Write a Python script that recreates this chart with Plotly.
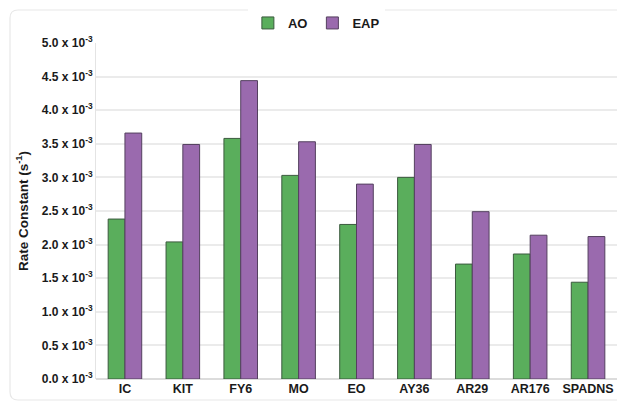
import plotly.graph_objects as go

# Dye categories and rate constants (units of 10^-3 s^-1)
categories = ["IC", "KIT", "FY6", "MO", "EO", "AY36", "AR29", "AR176", "SPADNS"]
ao_rates = [2.38, 2.04, 3.58, 3.03, 2.30, 3.00, 1.71, 1.86, 1.44]
eap_rates = [3.66, 3.49, 4.44, 3.53, 2.90, 3.49, 2.49, 2.14, 2.12]
tick_values = [0.0, 0.5, 1.0, 1.5, 2.0, 2.5, 3.0, 3.5, 4.0, 4.5, 5.0]
tick_labels = [f"{v:.1f} x 10<sup>-3</sup>" for v in tick_values]

FONT = "Liberation Sans, Arial, sans-serif"
INK = "#1a1a1a"

fig = go.Figure()
fig.add_trace(go.Bar(
    name="AO", x=categories, y=ao_rates,
    marker=dict(color="#5aae5c", line=dict(color="#3b5a3e", width=1)),
))
fig.add_trace(go.Bar(
    name="EAP", x=categories, y=eap_rates,
    marker=dict(color="#9a6aae", line=dict(color="#54405f", width=1)),
))

L, T, B = 96, 43, 23
W, H = 617, 402
pw, ph = W - L, H - T - B

def px(x):
    return (x - L) / pw

def py(y):
    return (H - B - y) / ph

# Rounded frame around the chart
x0, x1, y0, y1, r = px(10), px(640), py(400), py(10), 8
rx, ry = r / pw, r / ph
path = (f"M {x0+rx},{y1} L {x1-rx},{y1} Q {x1},{y1} {x1},{y1-ry} "
        f"L {x1},{y0+ry} Q {x1},{y0} {x1-rx},{y0} L {x0+rx},{y0} "
        f"Q {x0},{y0} {x0},{y0+ry} L {x0},{y1-ry} Q {x0},{y1} {x0+rx},{y1} Z")

fig.update_layout(
    width=W, height=H,
    margin=dict(l=L, r=0, t=T, b=B),
    paper_bgcolor="white", plot_bgcolor="white",
    barmode="group", bargap=0.42, bargroupgap=0,
    font=dict(family=FONT, color=INK),
    showlegend=True,
    legend=dict(orientation="h", x=0.423, y=py(23), xanchor="center", yanchor="middle",
                font=dict(size=13, family=FONT, weight="bold", color=INK),
                itemwidth=30, traceorder="normal", tracegroupgap=0),
    shapes=[dict(type="path", path=path, xref="paper", yref="paper",
                 line=dict(color="#e8e8e8", width=1.2), layer="below")],
    xaxis=dict(
        range=[-0.5, 8.5], showgrid=False, ticks="", showline=False,
        tickfont=dict(size=12.5, family=FONT, weight="bold", color=INK),
    ),
    yaxis=dict(
        range=[0, 5.0], tickvals=tick_values, ticktext=tick_labels,
        showgrid=True, gridcolor="#ebebeb", gridwidth=1.5,
        zeroline=True, zerolinecolor="#dcdcdc", zerolinewidth=1.5,
        showline=True, linecolor="#e4e4e4", linewidth=1,
        ticks="", ticklen=0,
        tickfont=dict(size=12, family=FONT, weight="bold", color=INK),
        title=dict(text="Rate Constant (s<sup>-1</sup>)", standoff=10,
                   font=dict(size=13.5, family=FONT, weight="bold", color=INK)),
    ),
)

fig.write_html("out.html")
